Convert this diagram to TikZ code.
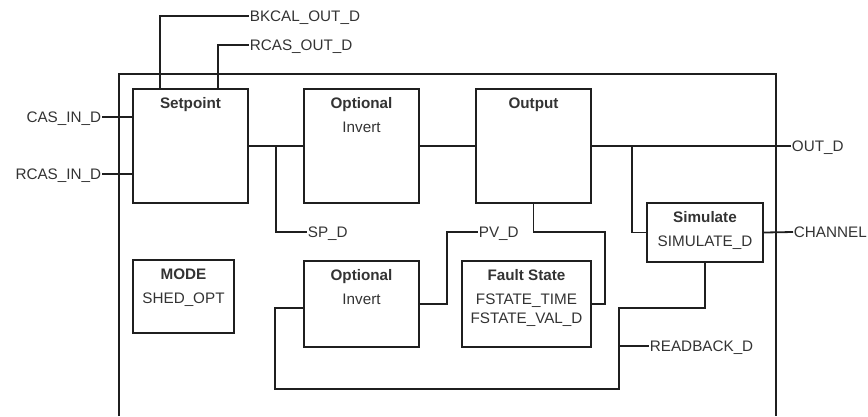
\documentclass[tikz,border=0pt]{standalone}
\usepackage{fontspec}
\setmainfont{Liberation Sans}
\usepackage{tikz}

\begin{document}
\begin{tikzpicture}[x=1bp,y=-1bp,line width=1.8bp,color=black!88,
  blk/.style={draw,line width=2bp,inner sep=0pt},
  ttl/.style={anchor=north,align=center,inner sep=0pt,yshift=-9bp,
    text=black!80,font=\fontsize{15.3}{19}\selectfont},
  sig/.style={inner sep=0pt,text height=11bp,text depth=0pt,
    text=black!80,font=\fontsize{15.3}{19}\selectfont},
  wire/.style={line width=1.8bp,line join=miter}]
  \useasboundingbox (0,0) rectangle (868,416);

  % block outline, open at the bottom
  \draw[line width=1.3bp] (119,416) -- (119,74) -- (776,74) -- (776,416);

  \node[blk,minimum width=115bp,minimum height=114bp,
    label={[ttl]north:\textbf{Setpoint}}] (setpt) at (190.5,146) {};
  \node[blk,minimum width=115bp,minimum height=114bp,
    label={[ttl]north:\textbf{Optional}\\[5bp]Invert}] (inv1) at (361.5,146) {};
  \node[blk,minimum width=115bp,minimum height=114bp,
    label={[ttl]north:\textbf{Output}}] (outp) at (533.5,146) {};
  \node[blk,minimum width=116bp,minimum height=59bp,
    label={[ttl]north:\textbf{Simulate}\\[5bp]SIMULATE\_D}] (sim) at (705,232.5) {};
  \node[blk,minimum width=101bp,minimum height=73bp,
    label={[ttl]north:\textbf{MODE}\\[5bp]SHED\_OPT}] (mode) at (183.5,296.5) {};
  \node[blk,minimum width=115bp,minimum height=86bp,
    label={[ttl]north:\textbf{Optional}\\[5bp]Invert}] (inv2) at (361.5,304) {};
  \node[blk,minimum width=129bp,minimum height=86bp,
    label={[ttl]north:\textbf{Fault State}\\[5bp]FSTATE\_TIME\\FSTATE\_VAL\_D}] (fault) at (526.5,304) {};

  % signal names
  \node[sig,anchor=east] (casin) at (102,117) {CAS\_IN\_D};
  \node[sig,anchor=east] (rcasin) at (102,174) {RCAS\_IN\_D};
  \node[sig,anchor=west] (bkcal) at (249,16) {BKCAL\_OUT\_D};
  \node[sig,anchor=west] (rcasout) at (249,45) {RCAS\_OUT\_D};
  \node[sig,anchor=west] (spd) at (307,232) {SP\_D};
  \node[sig,anchor=west] (pvd) at (478,232) {PV\_D};
  \node[sig,anchor=west] (outd) at (791,146) {OUT\_D};
  \node[sig,anchor=west] (chan) at (793,232) {CHANNEL};
  \node[sig,anchor=west] (rbk) at (649,346) {READBACK\_D};

  \coordinate (spj) at (276,146);
  \coordinate (outj) at (632,146);
  \coordinate (pvj) at (447,232);
  \coordinate (fsj) at (605,232);
  \coordinate (rb1) at (619,308);
  \coordinate (rb2) at (275,389);
  \coordinate (rbj) at (619,346);

  \draw[wire] (casin.east) -- (casin.east -| setpt.west);
  \draw[wire] (rcasin.east) -- (rcasin.east -| setpt.west);
  \draw[wire] ([xshift=28bp]setpt.north west) |- (bkcal.west);
  \draw[wire] ([xshift=86bp]setpt.north west) |- (rcasout.west);
  \draw[wire] (setpt.east) -- (inv1.west);
  \draw[wire] (spj) |- (spd.west);
  \draw[wire] (inv1.east) -- (outp.west);
  \draw[wire] (outp.east) -- (outd.west);
  \draw[wire] (outj) |- (sim.west);
  \draw[wire] (sim.east) -- (chan.west);
  \draw[wire] (outp.south) |- (fsj) |- (fault.east);
  \draw[wire] (inv2.east) -| (pvj) -- (pvd.west);
  \draw[wire] (sim.south) |- (rb1) |- (rb2) |- ([yshift=-4bp]inv2.west);
  \draw[wire] (rbj) -- (rbk.west);
\end{tikzpicture}
\end{document}
